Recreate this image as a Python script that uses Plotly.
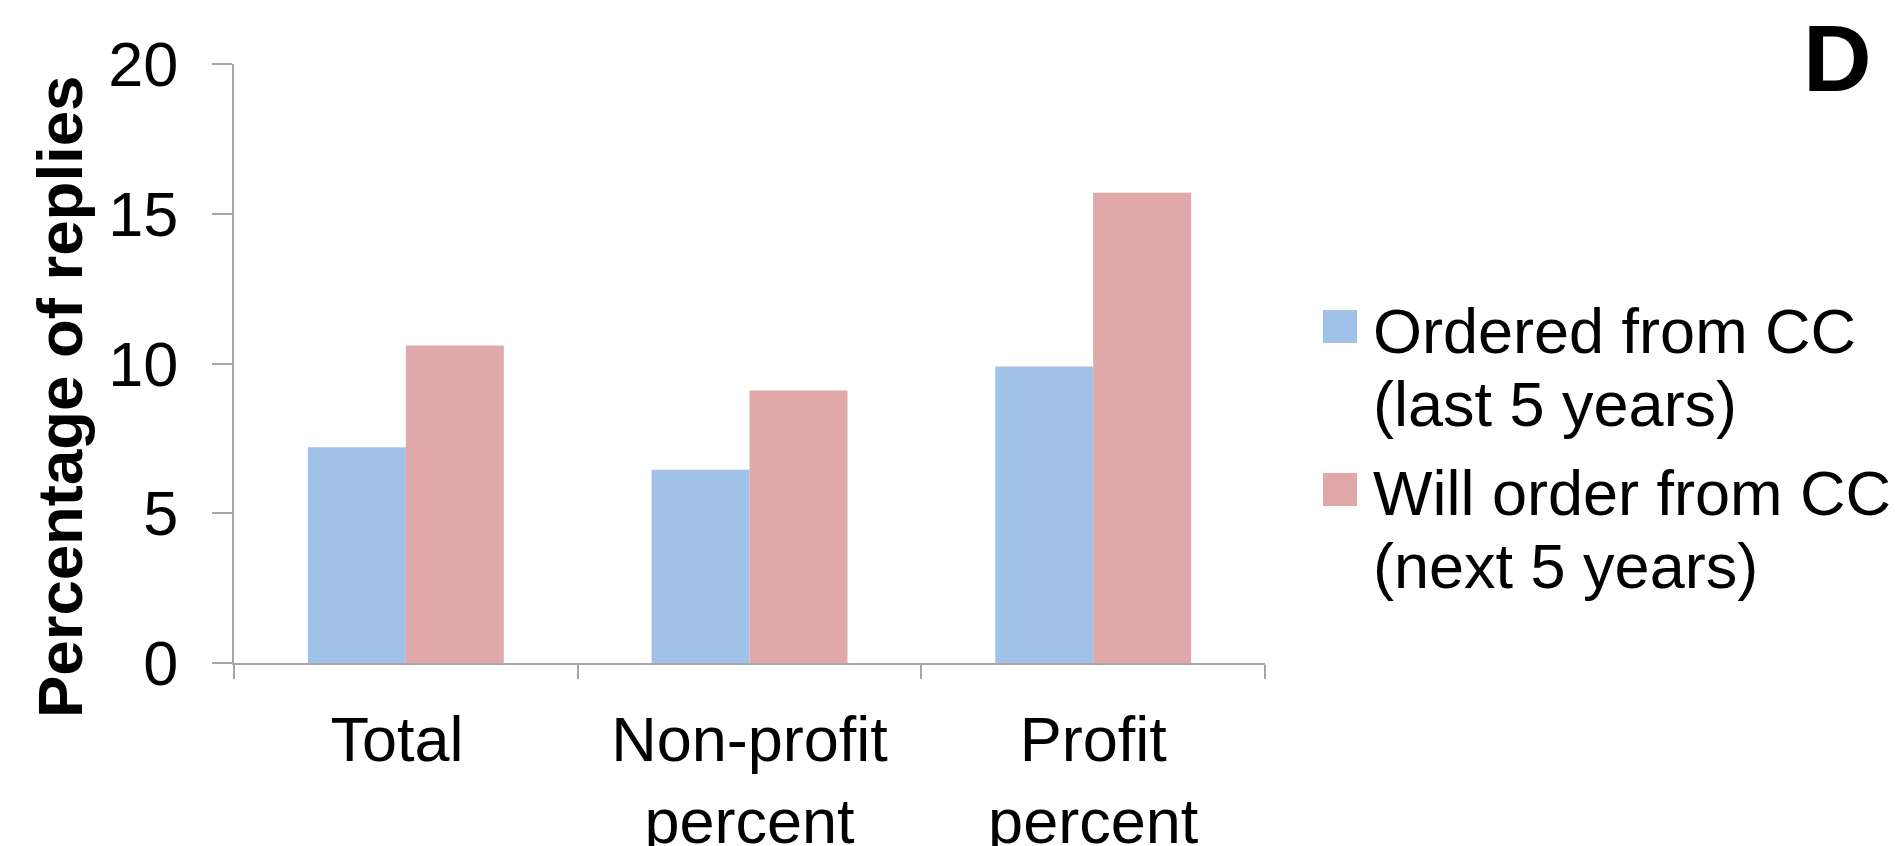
import plotly.graph_objects as go

# Survey shares (% of replies) per respondent group
categories = ["Total", "Non-profit percent", "Profit percent"]
tick_labels = ["Total\u00a0", "Non-profit<br>percent", "Profit<br>percent"]
ordered_last5 = [7.2, 6.45, 9.9]
will_order_next5 = [10.6, 9.1, 15.7]
series_names = [["Ordered from CC", "(last 5 years)"],
                ["Will order from CC", "(next 5 years)"]]
y_ticks = [0, 5, 10, 15, 20]

BLUE = "#A0C2E8"
RED = "#E0A8A8"
AXIS = "#A6A6A6"
FONT = "Liberation Sans, Arial, sans-serif"
FS = 63

W, H = 1901, 846
L, R, T, B = 234, 636, 64, 183

fig = go.Figure()
fig.add_trace(go.Bar(x=categories, y=ordered_last5, marker=dict(color=BLUE, line=dict(width=0)),
                     name=" ".join(series_names[0]), showlegend=False))
fig.add_trace(go.Bar(x=categories, y=will_order_next5, marker=dict(color=RED, line=dict(width=0)),
                     name=" ".join(series_names[1]), showlegend=False))

fig.update_layout(
    width=W, height=H,
    margin=dict(l=L, r=R, t=T, b=B, pad=0, autoexpand=False),
    paper_bgcolor="white", plot_bgcolor="white",
    barmode="group", bargap=0.43, bargroupgap=0,
    font=dict(family=FONT, size=FS, color="black"),
    showlegend=False,
)
fig.update_xaxes(
    type="category", range=[-0.5, 2.5], automargin=False,
    tickmode="array", tickvals=categories, ticktext=tick_labels,
    showline=True, linecolor=AXIS, linewidth=2,
    ticks="outside", tickson="boundaries", ticklen=14, tickcolor=AXIS, tickwidth=2,
    showgrid=False, zeroline=False,
    tickfont=dict(family=FONT, size=FS, color="black"),
    ticklabelstandoff=20,
)
fig.update_yaxes(
    range=[0, 20], tickvals=y_ticks, automargin=False,
    showline=True, linecolor=AXIS, linewidth=2,
    ticks="outside", ticklen=20, tickcolor=AXIS, tickwidth=2,
    showgrid=False, zeroline=False,
    tickfont=dict(family=FONT, size=FS, color="black"),
    ticklabelstandoff=21,
)

plot_w = W - L - R
plot_h = H - T - B

def px_x(x):
    return (x - L) / plot_w

def px_y(y):
    return 1 - (y - T) / plot_h

# y-axis title
fig.add_annotation(text="<b>Percentage of replies</b>", textangle=-90,
                   xref="paper", yref="paper", x=px_x(60), y=px_y(397),
                   xanchor="center", yanchor="middle", showarrow=False,
                   font=dict(family=FONT, size=63.5, color="black"))

# panel letter
fig.add_annotation(text="<b>D</b>", xref="paper", yref="paper",
                   x=px_x(1837), y=px_y(58), xanchor="center", yanchor="middle",
                   showarrow=False, font=dict(family=FONT, size=95, color="black"))

# legend: colour swatches and two-line labels
swatch_tops = [310, 473]
line_centres = [[331, 404], [493, 566]]
for colour, top, names, centres in zip([BLUE, RED], swatch_tops, series_names, line_centres):
    fig.add_shape(type="rect", xref="paper", yref="paper",
                  x0=px_x(1323), x1=px_x(1357), y0=px_y(top), y1=px_y(top + 33),
                  fillcolor=colour, line=dict(width=0))
    for txt, cy in zip(names, centres):
        fig.add_annotation(text=txt, xref="paper", yref="paper",
                           x=px_x(1371), y=px_y(cy), xanchor="left", yanchor="middle",
                           showarrow=False, font=dict(family=FONT, size=FS, color="black"))

fig.write_html("out.html")
